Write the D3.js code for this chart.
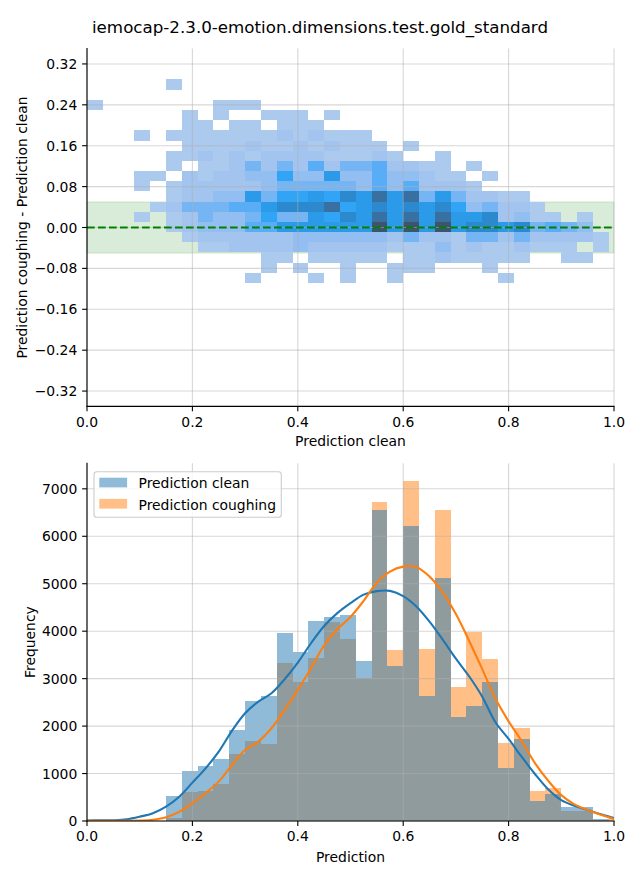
<!DOCTYPE html>
<html><head><meta charset="utf-8">
<script src="https://cdn.jsdelivr.net/npm/d3@7"></script>
<style>body{margin:0;background:#fff} svg{display:block} text{font-family:"DejaVu Sans",sans-serif;fill:#000}</style>
</head><body><svg id="c" width="640" height="880"></svg>
<script>
// ---------------- DATA ----------------
const title = "iemocap-2.3.0-emotion.dimensions.test.gold_standard";
// 2D histogram: x bins of width 0.03 starting at 0; y bins of width 0.0199 (rows listed top -> bottom)
const xBinWidth = 0.03;
const yBinTop = 0.2896, yBinHeight = 0.0199;
const cellCounts = [
 [0,0,0,0,0,15],
 [],
 [15,0,0,0,0,0,0,0,15,15,15],
 [0,0,0,0,0,0,15,0,15,0,0,15,15,15,0,15],
 [0,0,0,0,0,0,15,15,0,15,15,0,15,15,15],
 [0,0,0,15,0,15,15,15,15,15,15,15,120,15,120,15,15,15],
 [0,0,0,0,0,0,15,15,15,15,120,15,15,120,15,120,15,15,15,0,15],
 [0,0,0,0,0,15,15,120,15,120,15,120,120,120,120,15,15,15,120,15,0,0,15],
 [0,0,0,0,0,15,0,15,15,120,480,120,480,120,660,120,480,480,660,120,120,15,15,0,15],
 [0,0,0,15,15,0,120,15,120,120,260,260,850,260,260,1050,260,260,660,260,260,120,15,15,0,15],
 [0,0,0,15,0,15,120,120,120,120,120,260,480,480,480,480,480,260,660,260,660,120,120,120,15],
 [0,0,0,0,0,15,120,120,260,260,1050,480,850,850,1050,850,1400,1050,1900,1050,1900,480,1050,480,120,120,15,15],
 [0,0,0,0,15,120,480,480,480,660,660,1050,1400,1400,1400,1900,850,1050,1400,1050,1400,1050,1400,850,260,480,120,120,15],
 [0,0,0,15,0,15,120,480,260,260,480,850,480,480,1050,850,1400,1050,1900,1050,1900,1050,1900,1050,1050,1400,120,260,15,15,0,15],
 [0,0,0,0,0,15,120,260,260,260,660,660,1050,1050,1050,1050,1050,1050,2500,1050,2500,1050,2500,1050,1400,1400,1050,1400,480,660,480,260],
 [0,0,0,0,0,0,15,120,120,120,120,120,120,260,260,260,260,260,260,120,480,120,120,15,480,480,120,480,120,120,120,120,15],
 [0,0,0,0,0,0,0,15,15,120,120,120,120,260,120,120,120,120,120,15,15,15,260,15,120,15,15,120,15,15,15,0,15],
 [0,0,0,0,0,0,0,0,0,0,0,15,15,0,15,15,15,15,15,0,15,15,120,15,15,15,15,15,0,0,15,15],
 [0,0,0,0,0,0,0,0,0,0,0,15,0,15,0,0,15,0,0,15,15,15,0,0,0,15],
 [0,0,0,0,0,0,0,0,0,0,15,0,0,0,15,0,15,0,0,15,0,0,0,0,0,0,15]
];
const topYTicks = [-0.32,-0.24,-0.16,-0.08,0,0.08,0.16,0.24,0.32];
const xTicks = [0,0.2,0.4,0.6,0.8,1.0];
const bandLimit = 0.05;

// 1D histograms: bins of width 0.03, left edges 0, 0.03, ...
const seriesNames = ["Prediction clean","Prediction coughing"];
const cleanCounts  = [0,0,0,0,0,533,1054,1160,1307,1919,2530,2635,3964,3557,4217,4308,4343,3373,6557,3275,6220,2635,5123,2193,2424,2930,1117,1729,428,569,295,295,45,10];
const coughCounts  = [0,0,0,0,0,70,618,640,790,1413,1687,1630,3338,2937,3443,4203,3837,3022,6726,3605,7168,3626,6557,2825,3985,3415,1645,1961,633,696,211,211,30,55];
// KDE curves (scaled to counts), sampled at kdeX
const kdeX = [0,0.025,0.05,0.075,0.1,0.125,0.15,0.175,0.2,0.225,0.25,0.275,0.3,0.325,0.35,0.375,0.4,0.425,0.45,0.475,0.5,0.525,0.55,0.575,0.6,0.625,0.65,0.675,0.7,0.725,0.75,0.775,0.8,0.825,0.85,0.875,0.9,0.925,0.95,0.975,1.0];
const kdeClean = [12,13,16,35,91,165,302,513,808,1110,1461,1900,2270,2516,2692,2987,3338,3746,4110,4380,4590,4770,4845,4850,4740,4520,4200,3820,3420,3050,2620,2080,1730,1350,990,670,440,320,230,140,63];
const kdeCough = [3,3,3,4,8,25,77,196,373,590,830,1180,1497,1672,1954,2340,2762,3219,3700,4040,4300,4640,5020,5256,5360,5355,5150,4820,4360,3800,3200,2580,2100,1680,1220,850,545,350,230,130,42];
const bottomYTicks = [0,1000,2000,3000,4000,5000,6000,7000];

// ---------------- HUSL colormap (seaborn style) ----------------
const HM = [[3.2406,-1.5372,-0.4986],[-0.9689,1.8758,0.0415],[0.0557,-0.2040,1.0570]];
const HMI = [[0.4124,0.3576,0.1805],[0.2126,0.7152,0.0722],[0.0193,0.1192,0.9505]];
const refU=0.19784, refV=0.46834, labE=0.008856, labK=903.3;
function maxChroma(L,H){
  const hr=H*Math.PI/180, sinH=Math.sin(hr), cosH=Math.cos(hr);
  const sub1=Math.pow(L+16,3)/1560896, sub2=sub1>labE?sub1:L/labK;
  let res=Infinity;
  for(const [m1,m2,m3] of HM){
    const tp=(0.99915*m1+1.05122*m2+1.14460*m3)*sub2;
    const rb=0.86330*m3-0.17266*m2, lb=0.12949*m3-0.38848*m1;
    const bottom=(rb*sinH+lb*cosH)*sub2;
    for(const t of [0,1]){
      const C=L*(tp-1.05122*t)/(bottom+0.17266*sinH*t);
      if(C>0&&C<res) res=C;
    }
  }
  return res;
}
function fInv(t){ return t*t*t>labE? t*t*t : (116*t-16)/labK; }
function fF(t){ return t>labE? Math.cbrt(t) : 7.787*t+16/116; }
function toLin(c){ return c>0.04045? Math.pow((c+0.055)/1.055,2.4): c/12.92; }
function fromLin(c){ return c<=0.0031308? 12.92*c : 1.055*Math.pow(c,1/2.4)-0.055; }
function huslToRgb(H,S,L){
  if(L>99.9999999) return [1,1,1]; if(L<1e-8) return [0,0,0];
  const C=maxChroma(L,H)/100*S;
  const hr=H*Math.PI/180, U=Math.cos(hr)*C, V=Math.sin(hr)*C;
  const Y=fInv((L+16)/116); const vu=U/(13*L)+refU, vv=V/(13*L)+refV;
  const X=-(9*Y*vu)/((vu-4)*vv-vu*vv); const Z=(9*Y-15*vv*Y-vv*X)/(3*vv);
  return HM.map(r=>fromLin(r[0]*X+r[1]*Y+r[2]*Z));
}
function rgbToHusl(r,g,b){
  const l=[r,g,b].map(toLin); const [X,Y,Z]=HMI.map(m=>m[0]*l[0]+m[1]*l[1]+m[2]*l[2]);
  const d=X+15*Y+3*Z; const vu=4*X/d, vv=9*Y/d; const L=116*fF(Y)-16;
  const U=13*L*(vu-refU), V=13*L*(vv-refV);
  const C=Math.hypot(U,V); let H=Math.atan2(V,U)*180/Math.PI; if(H<0)H+=360;
  return [H, C/maxChroma(L,H)*100, L];
}
function cmapFromColor(hex){
  const c=d3.rgb(hex); const [h,s]=rgbToHusl(c.r/255,c.g/255,c.b/255);
  const n=256, N=Math.floor(1.15*256), cols=[];
  for(let i=0;i<n;i++){
    const xx=-1+2*i/(N-1);
    const L=35+45*i/(n-1);
    cols.push(huslToRgb(h, s*Math.cos(xx), L).map(v=>Math.max(0,Math.min(1,v))));
  }
  cols.reverse();
  return t=>{ let i=Math.floor(t*n); i=Math.max(0,Math.min(n-1,i)); const [r,g,b]=cols[i]; return d3.rgb(r*255,g*255,b*255).formatHex(); };
}

// ---------------- DRAW ----------------
const svg=d3.select("#c");
const X0=87, X1=614;
const x=d3.scaleLinear().domain([0,1]).range([X0,X1]);
const FS=13.9;
const gridColor="#b0b0b0";

svg.append("text").attr("x",320).attr("y",33).attr("text-anchor","middle").attr("font-size",16.7).text(title);

function drawAxes(g, yScale, yTicks, fmt, yTop, yBot){
  g.append("line").attr("x1",X0).attr("x2",X0).attr("y1",yTop).attr("y2",yBot).attr("stroke","#000").attr("stroke-width",1.1).attr("stroke-linecap","square");
  g.append("line").attr("x1",X0).attr("x2",X1).attr("y1",yBot).attr("y2",yBot).attr("stroke","#000").attr("stroke-width",1.1).attr("stroke-linecap","square");
  g.selectAll(".xt").data(xTicks).join("line").attr("x1",d=>x(d)).attr("x2",d=>x(d)).attr("y1",yBot).attr("y2",yBot+4.9).attr("stroke","#000").attr("stroke-width",1.1);
  g.selectAll(".xl").data(xTicks).join("text").attr("x",d=>x(d)).attr("y",yBot+20.2).attr("text-anchor","middle").attr("font-size",FS).text(d=>d.toFixed(1));
  g.selectAll(".yt").data(yTicks).join("line").attr("y1",d=>yScale(d)).attr("y2",d=>yScale(d)).attr("x1",X0-4.9).attr("x2",X0).attr("stroke","#000").attr("stroke-width",1.1);
  g.selectAll(".yl").data(yTicks).join("text").attr("x",X0-9.7).attr("y",d=>yScale(d)).attr("dy","0.36em").attr("text-anchor","end").attr("font-size",FS).text(fmt);
}

// ===== TOP PANEL =====
const yT=d3.scaleLinear().domain([-0.35,0.35]).range([406.4,48.6]);
const gTop=svg.append("g");
gTop.append("defs").append("clipPath").attr("id","clipT").append("rect")
  .attr("x",X0).attr("y",yT(0.35)).attr("width",X1-X0).attr("height",yT(-0.35)-yT(0.35));
gTop.append("rect").attr("x",X0).attr("width",X1-X0).attr("y",yT(bandLimit)).attr("height",yT(-bandLimit)-yT(bandLimit))
  .attr("fill","#008000").attr("fill-opacity",0.15).attr("stroke","#008000").attr("stroke-opacity",0.15).attr("stroke-width",1);
const cells=[];
cellCounts.forEach((row,r)=>row.forEach((v,c)=>{ if(v>0) cells.push({r,c,v}); }));
const vmin=d3.min(cells,d=>d.v), vmax=d3.max(cells,d=>d.v);
const norm=d3.scaleLinear().domain([vmin,vmax]).range([0,1]).clamp(true);
const cmap=cmapFromColor("#1f77b4");
gTop.append("g").attr("clip-path","url(#clipT)").selectAll("rect").data(cells).join("rect")
  .attr("x",d=>x(d.c*xBinWidth)).attr("width",d=>x((d.c+1)*xBinWidth)-x(d.c*xBinWidth))
  .attr("y",d=>yT(yBinTop-d.r*yBinHeight)).attr("height",d=>yT(yBinTop-(d.r+1)*yBinHeight)-yT(yBinTop-d.r*yBinHeight))
  .attr("fill",d=>cmap(norm(d.v))).attr("shape-rendering","crispEdges");
const gT=gTop.append("g").attr("stroke",gridColor).attr("stroke-opacity",0.5).attr("stroke-width",1.1);
gT.selectAll(".v").data(xTicks).join("line").attr("x1",d=>x(d)).attr("x2",d=>x(d)).attr("y1",yT(0.35)).attr("y2",yT(-0.35));
gT.selectAll(".h").data(topYTicks).join("line").attr("y1",d=>yT(d)).attr("y2",d=>yT(d)).attr("x1",X0).attr("x2",X1);
gTop.append("line").attr("x1",X0).attr("x2",X1).attr("y1",yT(0)).attr("y2",yT(0))
  .attr("stroke","#008000").attr("stroke-width",2.1).attr("stroke-dasharray","7.7,3.3");
drawAxes(gTop, yT, topYTicks, d=> (d<0?"\u2212":"")+Math.abs(d).toFixed(2), yT(0.35), yT(-0.35));
svg.append("text").attr("x",(X0+X1)/2).attr("y",446).attr("text-anchor","middle").attr("font-size",FS).text("Prediction clean");
svg.append("text").attr("transform",`translate(27,${(yT(0.35)+yT(-0.35))/2}) rotate(-90)`).attr("text-anchor","middle").attr("font-size",FS).text("Prediction coughing - Prediction clean");

// ===== BOTTOM PANEL =====
const yB=d3.scaleLinear().domain([0,7540]).range([821,463.2]);
const gBot=svg.append("g");
gBot.append("defs").append("clipPath").attr("id","clipB").append("rect")
  .attr("x",X0).attr("y",yB(7540)).attr("width",X1-X0).attr("height",yB(0)-yB(7540));
const bars=gBot.append("g").attr("clip-path","url(#clipB)");
const colors=["#1f77b4","#ff7f0e"];
function drawBars(counts,color){
  bars.append("g").selectAll("rect").data(counts.map((v,i)=>({i,v})).filter(d=>d.v>0)).join("rect")
    .attr("x",d=>x(d.i*xBinWidth)).attr("width",d=>x((d.i+1)*xBinWidth)-x(d.i*xBinWidth))
    .attr("y",d=>yB(d.v)).attr("height",d=>yB(0)-yB(d.v))
    .attr("fill",color).attr("fill-opacity",0.5).attr("shape-rendering","crispEdges");
}
drawBars(coughCounts,colors[1]);
drawBars(cleanCounts,colors[0]);
const gB=gBot.append("g").attr("stroke",gridColor).attr("stroke-opacity",0.5).attr("stroke-width",1.1);
gB.selectAll(".v").data(xTicks).join("line").attr("x1",d=>x(d)).attr("x2",d=>x(d)).attr("y1",yB(7540)).attr("y2",yB(0));
gB.selectAll(".h").data(bottomYTicks).join("line").attr("y1",d=>yB(d)).attr("y2",d=>yB(d)).attr("x1",X0).attr("x2",X1);
const kdePath=(vals)=>d3.line().x((d,i)=>x(kdeX[i])).y(d=>yB(d)).curve(d3.curveCatmullRom.alpha(0.5))(vals);
gBot.append("path").attr("d",kdePath(kdeClean)).attr("fill","none").attr("stroke",colors[0]).attr("stroke-width",2.1).attr("clip-path","url(#clipB)");
gBot.append("path").attr("d",kdePath(kdeCough)).attr("fill","none").attr("stroke",colors[1]).attr("stroke-width",2.1).attr("clip-path","url(#clipB)");
drawAxes(gBot, yB, bottomYTicks, d=>String(d), yB(7540), yB(0));
svg.append("text").attr("x",(X0+X1)/2).attr("y",862).attr("text-anchor","middle").attr("font-size",FS).text("Prediction");
svg.append("text").attr("transform",`translate(35,${(yB(0)+yB(7540))/2}) rotate(-90)`).attr("text-anchor","middle").attr("font-size",FS).text("Frequency");

// legend
const lg=svg.append("g");
lg.append("rect").attr("x",94).attr("y",471.7).attr("width",187.3).attr("height",45.6).attr("rx",2.8)
  .attr("fill","#fff").attr("fill-opacity",0.8).attr("stroke","#cccccc").attr("stroke-width",1.1);
seriesNames.forEach((name,i)=>{
  const yy=477.7+i*21.2;
  lg.append("rect").attr("x",99.3).attr("y",yy).attr("width",27.8).attr("height",9.7).attr("fill",colors[i]).attr("fill-opacity",0.5);
  lg.append("text").attr("x",138.5).attr("y",yy+10.6).attr("font-size",FS).text(name);
});
</script></body></html>
